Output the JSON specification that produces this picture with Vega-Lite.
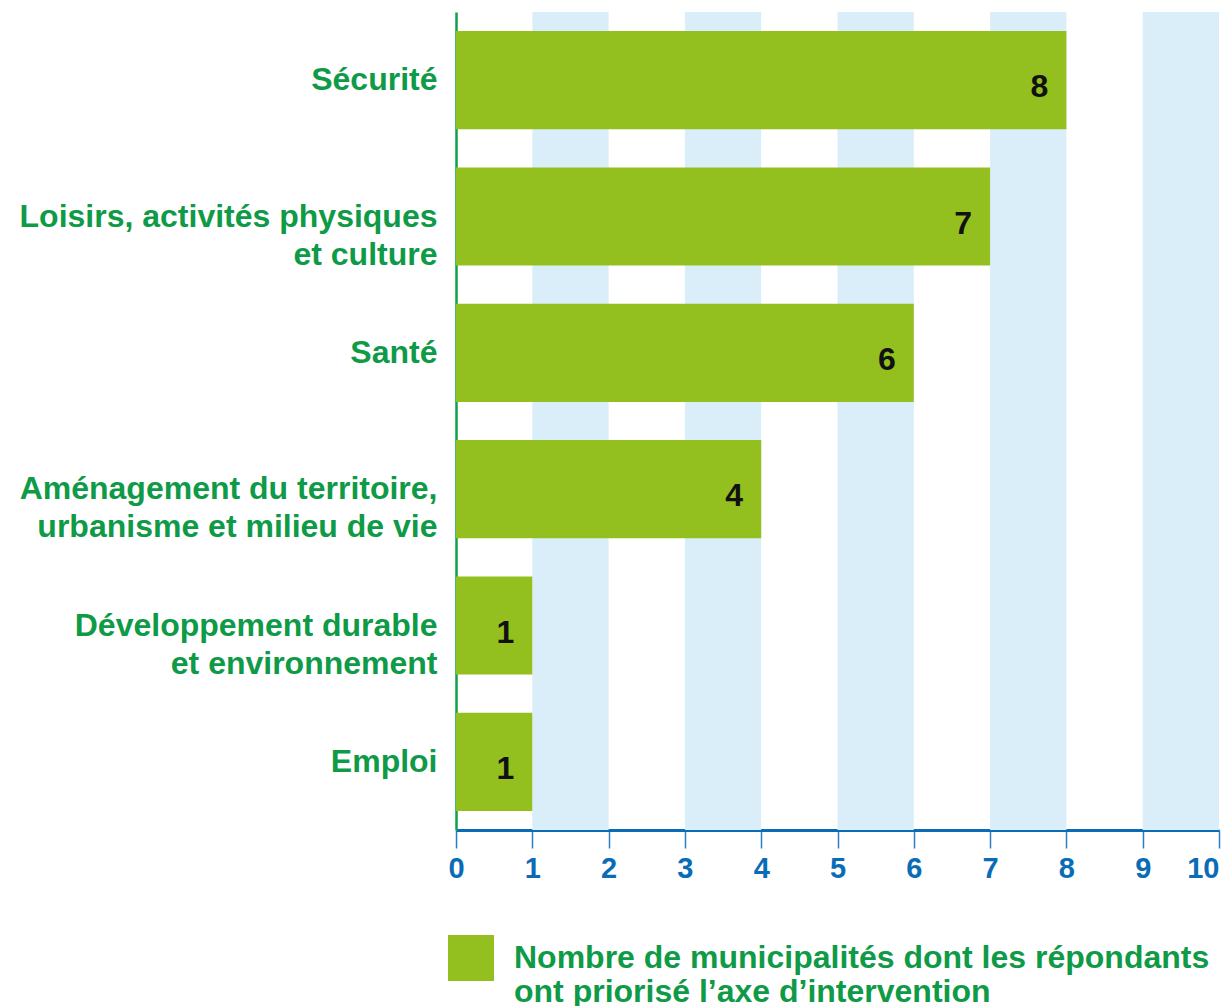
{
  "$schema": "https://vega.github.io/schema/vega-lite/v6.json",
  "width": 763,
  "height": 818,
  "autosize": "none",
  "padding": {"left": 456, "top": 12, "right": 11, "bottom": 176},
  "background": "white",
  "config": {"view": {"stroke": null}, "font": "Liberation Sans"},
  "datasets": {
    "bars": [
      {"cat": "Sécurité", "value": 8, "serie": "Nombre de municipalités"},
      {"cat": "Loisirs, activités physiques|et culture", "value": 7, "serie": "Nombre de municipalités"},
      {"cat": "Santé", "value": 6, "serie": "Nombre de municipalités"},
      {"cat": "Aménagement du territoire,|urbanisme et milieu de vie", "value": 4, "serie": "Nombre de municipalités"},
      {"cat": "Développement durable|et environnement", "value": 1, "serie": "Nombre de municipalités"},
      {"cat": "Emploi", "value": 1, "serie": "Nombre de municipalités"}
    ],
    "bands": [
      {"b0": 1, "b1": 2},
      {"b0": 3, "b1": 4},
      {"b0": 5, "b1": 6},
      {"b0": 7, "b1": 8},
      {"b0": 9, "b1": 10}
    ]
  },
  "layer": [
    {
      "data": {"name": "bands"},
      "mark": {"type": "rect", "color": "#daeef9"},
      "encoding": {
        "x": {"field": "b0", "type": "quantitative", "scale": {"domain": [0, 10], "nice": false}},
        "x2": {"field": "b1"}
      }
    },
    {
      "data": {"name": "bars"},
      "mark": {"type": "bar"},
      "encoding": {
        "y": {
          "field": "cat", "type": "nominal", "sort": null,
          "scale": {"paddingInner": 0.28, "paddingOuter": 0.14},
          "axis": {
            "title": null, "ticks": false, "labelPadding": 19,
            "labelExpr": "split(datum.label, '|')",
            "labelFont": "Liberation Sans", "labelFontWeight": "bold", "labelFontSize": 32,
            "labelColor": "#0f9a47", "labelLineHeight": 38, "labelLimit": 500,
            "domainColor": "#10a04a", "domainWidth": 2.5
          }
        },
        "x": {
          "field": "value", "type": "quantitative",
          "scale": {"domain": [0, 10], "nice": false},
          "axis": {
            "title": null, "grid": false, "values": [0,1,2,3,4,5,6,7,8,9,10], "format": "d",
            "ticks": true, "tickSize": 18, "tickColor": "#2a7cc0", "tickWidth": 1.5,
            "domainColor": "#0a6cb5", "domainWidth": 3,
            "labelFont": "Liberation Sans", "labelFontWeight": "bold", "labelFontSize": 29,
            "labelColor": "#0a6cb5", "labelPadding": 6, "labelFlush": false, "labelOverlap": false,
            "labelAlign": {"condition": {"test": "datum.value == 10", "value": "right"}, "value": "center"},
            "labelDx": {"condition": {"test": "datum.value == 10", "value": 3}, "value": 0}
          }
        },
        "color": {
          "field": "serie", "type": "nominal",
          "scale": {"range": ["#93c01f"]},
          "legend": {
            "orient": "none", "legendX": -8, "legendY": 923, "title": null,
            "symbolType": "square", "symbolSize": 2116, "symbolStrokeWidth": 0, "symbolOpacity": 1,
            "labelExpr": "['Nombre de municipalités dont les répondants', 'ont priorisé l’axe d’intervention']",
            "labelFont": "Liberation Sans", "labelFontWeight": "bold", "labelFontSize": 32,
            "labelColor": "#0f9a47", "labelLimit": 900, "labelOffset": 20, "labelLineHeight": 28,
            "padding": 0
          }
        }
      }
    },
    {
      "data": {"name": "bars"},
      "mark": {"type": "text", "align": "center", "baseline": "middle", "dx": -27, "dy": 7, "font": "Liberation Sans", "fontWeight": "bold", "fontSize": 32, "color": "#111111"},
      "encoding": {
        "y": {"field": "cat", "type": "nominal", "sort": null},
        "x": {"field": "value", "type": "quantitative"},
        "text": {"field": "value", "type": "quantitative"}
      }
    }
  ]
}
